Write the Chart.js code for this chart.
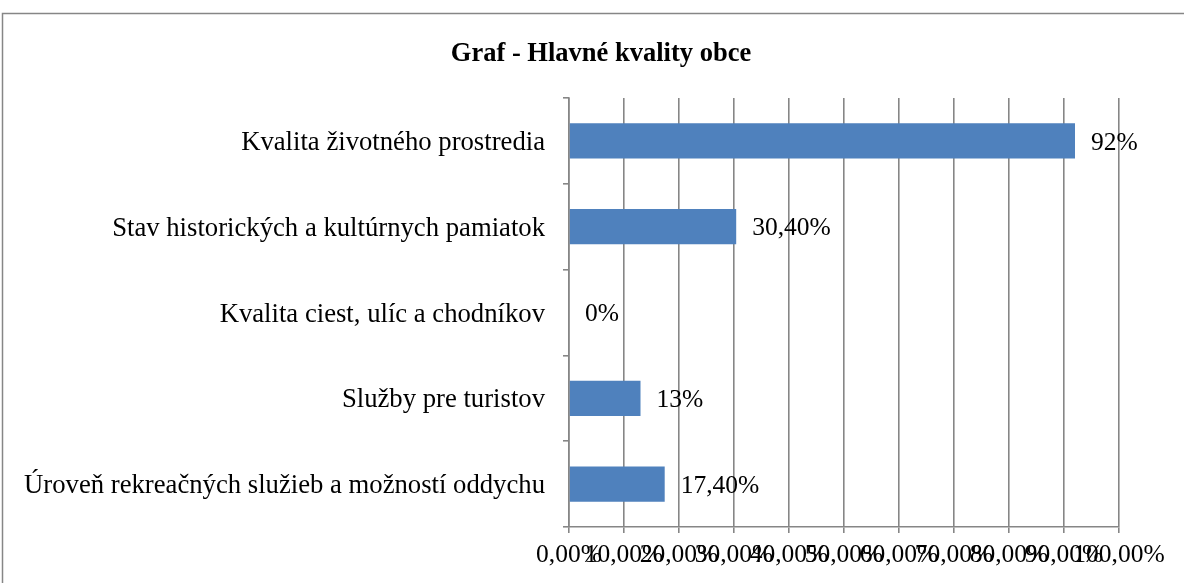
<!DOCTYPE html>
<html>
<head>
<meta charset="utf-8">
<script src="https://cdn.jsdelivr.net/npm/chart.js@4.4.1/dist/chart.umd.min.js"></script>
<style>
  html, body { margin: 0; padding: 0; background: #ffffff; }
  #wrap { position: relative; width: 1184px; height: 583px; }
</style>
</head>
<body>
<div id="wrap"><canvas id="c" width="1184" height="583"></canvas></div>
<script>
const chartTitle = 'Graf - Hlavné kvality obce';
const categories = [
  'Kvalita životného prostredia',
  'Stav historických a kultúrnych pamiatok',
  'Kvalita ciest, ulíc a chodníkov',
  'Služby pre turistov',
  'Úroveň rekreačných služieb a možností oddychu'
];
const values = [92, 30.4, 0, 13, 17.4];
const valueLabels = ['92%', '30,40%', '0%', '13%', '17,40%'];
const tickLabels = ['0,00%', '10,00%', '20,00%', '30,00%', '40,00%', '50,00%',
                    '60,00%', '70,00%', '80,00%', '90,00%', '100,00%'];

const FONT = "'Liberation Serif', 'Times New Roman', serif";
const GRID = '#868686';

const framePlugin = {
  id: 'frame',
  beforeDraw(chart) {
    const ctx = chart.ctx;
    ctx.save();
    ctx.fillStyle = '#ffffff';
    ctx.fillRect(0, 0, chart.width, chart.height);
    ctx.strokeStyle = GRID;
    ctx.lineWidth = 1.5;
    ctx.beginPath();
    ctx.moveTo(2.5, chart.height);
    ctx.lineTo(2.5, 13.5);
    ctx.lineTo(chart.width, 13.5);
    ctx.stroke();
    ctx.fillStyle = '#000000';
    ctx.font = "bold 26.5px " + FONT;
    ctx.textAlign = 'center';
    ctx.textBaseline = 'middle';
    ctx.fillText(chartTitle, 601, 54);
    ctx.restore();
  }
};

const valueLabelPlugin = {
  id: 'valueLabels',
  afterDatasetsDraw(chart) {
    const ctx = chart.ctx;
    const meta = chart.getDatasetMeta(0);
    ctx.save();
    ctx.fillStyle = '#000000';
    ctx.font = "25.5px " + FONT;
    ctx.textAlign = 'left';
    ctx.textBaseline = 'middle';
    meta.data.forEach((bar, i) => {
      ctx.fillText(valueLabels[i], bar.x + 16, bar.y + 2);
    });
    ctx.restore();
  }
};

new Chart(document.getElementById('c'), {
  type: 'bar',
  data: {
    labels: categories,
    datasets: [{
      data: values,
      backgroundColor: '#4F81BD',
      borderWidth: 0,
      categoryPercentage: 1,
      barPercentage: 0.41
    }]
  },
  options: {
    indexAxis: 'y',
    responsive: false,
    animation: false,
    layout: { padding: { top: 98, right: 65, left: 0, bottom: 0 } },
    plugins: {
      legend: { display: false },
      title: { display: false },
      tooltip: { enabled: false }
    },
    scales: {
      x: {
        min: 0,
        max: 100,
        ticks: {
          stepSize: 10,
          color: '#000000',
          font: { family: FONT, size: 25.5 },
          padding: 7,
          maxRotation: 0,
          autoSkip: false,
          callback: (v, i) => tickLabels[i]
        },
        grid: { color: GRID, lineWidth: 1.6, tickLength: 6, drawTicks: true },
        border: { color: GRID, width: 1.6 },
        afterFit: (s) => { s.height = 56; }
      },
      y: {
        ticks: {
          color: '#000000',
          font: { family: FONT, size: 26.7 },
          padding: 18,
          labelOffset: 2,
          autoSkip: false
        },
        grid: { display: true, drawOnChartArea: false, color: GRID, lineWidth: 1.6, tickLength: 6, offset: true },
        border: { color: GRID, width: 1.6 },
        afterFit: (s) => { s.width = 569; }
      }
    }
  },
  plugins: [framePlugin, valueLabelPlugin]
});
</script>
</body>
</html>
